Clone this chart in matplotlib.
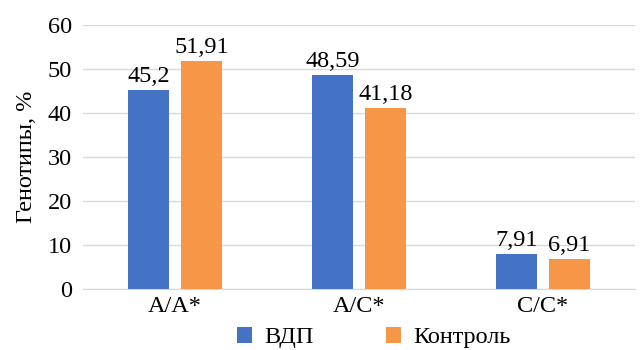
import matplotlib
matplotlib.use("Agg")
import matplotlib.pyplot as plt
import numpy as np

categories = ["A/A*", "A/C*", "C/C*"]
series_names = ["ВДП", "Контроль"]
vdp = [45.2, 48.59, 7.91]
control = [51.91, 41.18, 6.91]
vdp_labels = ["45,2", "48,59", "7,91"]
control_labels = ["51,91", "41,18", "6,91"]

plt.rcParams['font.family'] = ['Liberation Serif', 'DejaVu Serif']
FS = 17.5

fig = plt.figure(figsize=(6.44, 3.5), dpi=100)
ax = fig.add_axes([83/644, (350-289)/350, (635-83)/644, (289-25)/350])

x = np.arange(len(categories))
w = 0.223
off = 0.144
blue = "#4472C4"
orange = "#F79646"
b1 = ax.bar(x - off, vdp, w, color=blue, label=series_names[0], zorder=3)
b2 = ax.bar(x + off, control, w, color=orange, label=series_names[1], zorder=3)

for bars, labs in ((b1, vdp_labels), (b2, control_labels)):
    for r, t in zip(bars, labs):
        ax.annotate(t, (r.get_x() + r.get_width()/2, r.get_height()),
                    xytext=(0, 2), textcoords="offset points",
                    ha="center", va="bottom", fontsize=FS)

ax.set_xlim(-0.5, 2.5)
ax.set_ylim(0, 60)
ax.set_yticks(range(0, 61, 10))
ax.set_xticks(x)
ax.set_xticklabels(categories)
ax.tick_params(axis="both", length=0, labelsize=FS)
ax.tick_params(axis="y", pad=8)
ax.tick_params(axis="x", pad=5)
ax.yaxis.grid(True, color="#D9D9D9", linewidth=1, zorder=0)
for s in ["top", "right", "left"]:
    ax.spines[s].set_visible(False)
ax.spines["bottom"].set_color("#D9D9D9")
ax.set_ylabel("Генотипы, %", fontsize=FS, labelpad=8)

fig.legend(handles=[b1, b2], labels=series_names, loc="center",
           bbox_to_anchor=(374/644, 0.035), ncol=2, frameon=False,
           fontsize=FS, handlelength=0.6, handleheight=0.6, columnspacing=3.0,
           handletextpad=0.5)

fig.savefig("out.png", dpi=100)
